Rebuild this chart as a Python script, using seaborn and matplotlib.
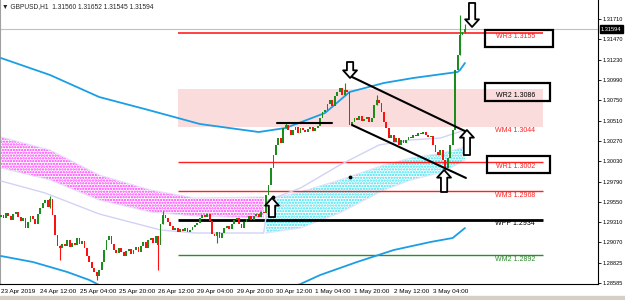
import numpy as np
import pandas as pd
import matplotlib
matplotlib.use("Agg")
import matplotlib.pyplot as plt
import matplotlib.transforms as mtransforms
from matplotlib.patches import Rectangle
import seaborn as sns

sns.set_style("white")
plt.rcParams["font.family"] = ["Liberation Sans", "DejaVu Sans"]
plt.rcParams["hatch.linewidth"] = 1.1

# hourly closes, bar 0 = 23 Apr 20:00
closes = [
    1.29395, 1.29359, 1.29419, 1.29383, 1.29336, 1.29407, 1.29430, 1.29371, 1.29324, 1.29359,
    1.29241, 1.29312, 1.29383, 1.29348, 1.29288, 1.29407, 1.29478, 1.29537, 1.29572, 1.29489,
    1.29584, 1.29395, 1.29158, 1.29028, 1.29005, 1.29052, 1.29028, 1.29099, 1.29017, 1.29064,
    1.29040, 1.29123, 1.29052, 1.29087, 1.29005, 1.28910, 1.28839, 1.28768, 1.28721, 1.28674,
    1.28745, 1.28839, 1.28981, 1.29099, 1.29147, 1.29052, 1.28981, 1.28946, 1.29005, 1.28957,
    1.28910, 1.28969, 1.28993, 1.28934, 1.28981, 1.29017, 1.28957, 1.29028, 1.29076, 1.29005,
    1.29099, 1.29123, 1.29064, 1.29147, 1.29040, 1.29288, 1.29395, 1.29359, 1.29312, 1.29265,
    1.29218, 1.29241, 1.29194, 1.29229, 1.29206, 1.29241, 1.29194, 1.29218, 1.29253, 1.29277,
    1.29300, 1.29359, 1.29395, 1.29371, 1.29407, 1.29324, 1.29170, 1.29147, 1.29194, 1.29123,
    1.29182, 1.29241, 1.29265, 1.29229, 1.29288, 1.29336, 1.29359, 1.29288, 1.29241, 1.29312,
    1.29348, 1.29383, 1.29336, 1.29383, 1.29407, 1.29371, 1.29430, 1.29419, 1.29631, 1.29750,
    1.29951, 1.30104, 1.30223, 1.30305, 1.30246, 1.30424, 1.30459, 1.30400, 1.30341, 1.30400,
    1.30435, 1.30364, 1.30424, 1.30400, 1.30376, 1.30412, 1.30435, 1.30388, 1.30424, 1.30447,
    1.30542, 1.30613, 1.30637, 1.30707, 1.30755, 1.30684, 1.30802, 1.30849, 1.30897, 1.30814,
    1.30873, 1.30849, 1.30459, 1.30495, 1.30542, 1.30518, 1.30566, 1.30506, 1.30530, 1.30554,
    1.30495, 1.30542, 1.30696, 1.30755, 1.30719, 1.30613, 1.30495, 1.30424, 1.30305, 1.30341,
    1.30258, 1.30305, 1.30223, 1.30282, 1.30246, 1.30282, 1.30317, 1.30305, 1.30341, 1.30329,
    1.30364, 1.30353, 1.30376, 1.30341, 1.30317, 1.30329, 1.30223, 1.30140, 1.30104, 1.30163,
    1.30045, 1.29951, 1.30069, 1.30223, 1.30400, 1.31110, 1.31287, 1.31523, 1.31560, 1.31594,
]
first_open = 1.29370

wick_bars = [20, 24, 39, 64, 66, 88, 116, 140, 153, 181, 187, 189]
wick_high = [1.29620, 1.29040, 1.28721, 1.29147, 1.29442, 1.29194, 1.30495, 1.30956, 1.30814, 1.30045, 1.31760, 1.31652]
wick_low = [1.29480, 1.28863, 1.28626, 1.28745, 1.29288, 1.29064, 1.30424, 1.30814, 1.30696, 1.29927, 1.31287, 1.31545]

# envelope / bands
band_up_bars = [0, 20, 40, 60, 81, 105, 116, 132, 142, 156, 168, 186, 187, 189]
band_up = [1.31251, 1.31050, 1.30790, 1.30637, 1.30471, 1.30376, 1.30424, 1.30601, 1.30849,
           1.30956, 1.31015, 1.31086, 1.31110, 1.31192]
band_dn_bars = [0, 13, 20, 27, 36, 40, 60, 80, 100, 116, 122, 130, 145, 160, 175, 184, 189]
band_dn = [1.28910, 1.28839, 1.28780, 1.28721, 1.28626, 1.28567, 1.28508, 1.28484, 1.28484,
           1.28520, 1.28579, 1.28685, 1.28839, 1.28981, 1.29076, 1.29123, 1.29241]
mid_bars = [0, 18, 40, 65, 79, 107, 109, 122, 138, 154, 167, 179, 189]
mid_line = [1.29797, 1.29655, 1.29407, 1.29218, 1.29182, 1.29182, 1.29572, 1.29714, 1.29986,
            1.30223, 1.30282, 1.30305, 1.30400]

# cloud
bear_bars = [0, 20, 40, 61, 79, 107]
bear_top = [1.30317, 1.30163, 1.29868, 1.29690, 1.29596, 1.29608]
bear_bot = [1.29951, 1.29809, 1.29572, 1.29430, 1.29383, 1.29359]
bull_bars = [108, 122, 138, 156, 167, 180, 189]
bull_top = [1.29572, 1.29667, 1.29809, 1.29986, 1.30069, 1.30128, 1.30199]
bull_bot = [1.29182, 1.29241, 1.29419, 1.29690, 1.29809, 1.29903, 1.30045]

dot_bars = [111, 142]
dot_vals = [1.29608, 1.29844]

# weekly pivots
level_names = ["WR3", "WR2", "WM4", "WR1", "WM3", "WPP", "WM2"]
level_values = [1.3155, 1.3086, 1.3044, 1.3002, 1.2968, 1.2934, 1.2892]
level_colors = ["#ff2020", "#000000", "#ff2020", "#ff2020", "#ff2020", "#000000", "#2e8b2e"]
level_width = [1.2, 0, 0, 1.0, 1.0, 2.0, 1.0]
level_start, level_end = 72.1, 220.8
zone_low, zone_high = 1.3044, 1.3089

box_x0 = [197.2, 197.2, 198.0]
box_x1 = [224.9, 223.6, 223.6]
box_p0 = [1.31381, 1.30743, 1.29892]
box_p1 = [1.31582, 1.30956, 1.30093]

# hand drawn lines
line_x0 = [143, 143, 112.4]
line_x1 = [189.8, 189.4, 134.8]
line_p0 = [1.31027, 1.30459, 1.30483]
line_p1 = [1.30376, 1.29833, 1.30483]

arrow_bars = [142.2, 191.9, 110.4, 180.5, 189.8]
arrow_tail = [1.31204, 1.31902, 1.29371, 1.29667, 1.30104]
arrow_tip = [1.31015, 1.31618, 1.29596, 1.29927, 1.30400]

x_tick_bars = [0, 16, 32, 48, 64, 80, 96, 112, 128, 144, 160, 176]
x_tick_labels = ["23 Apr 2019", "24 Apr 12:00", "25 Apr 04:00", "25 Apr 20:00", "26 Apr 12:00",
                 "29 Apr 04:00", "29 Apr 20:00", "30 Apr 12:00", "1 May 04:00", "1 May 20:00",
                 "2 May 12:00", "3 May 04:00"]
y_ticks = [1.31710, 1.31470, 1.31230, 1.30990, 1.30750, 1.30510, 1.30270, 1.30030, 1.29790,
           1.29550, 1.29310, 1.29070, 1.28825, 1.28585]
last_price = 1.31594
title = "\u25bc GBPUSD,H1  1.31560 1.31652 1.31545 1.31594"

df = pd.DataFrame({"bar": np.arange(len(closes)), "close": closes})
df["open"] = [first_open] + closes[:-1]
df["up"] = df.close >= df.open
GREEN, RED = "#1c8c1c", "#ff1010"

fig = plt.figure(figsize=(6.25, 3.0), dpi=100)
ax = fig.add_axes([0.0, 16 / 300, 598 / 625, 284 / 300])
ax.set_xlim(-0.4, 243.2)
ax.set_ylim(1.28579, 1.31937)

# pink zone + pivot lines
ax.fill_between([level_start, level_end], zone_low, zone_high, color="#fbdcdc", lw=0, zorder=0)
for name, val, col, lw in zip(level_names, level_values, level_colors, level_width):
    if lw > 0:
        ax.hlines(val, level_start, level_end, color=col, lw=lw, zorder=2)
    ax.text(209.5, val - 0.00050, f"{name} {val:.4f}", color=col, fontsize=5.0,
            ha="center", va="center", zorder=6)
for x0, x1, p0, p1 in zip(box_x0, box_x1, box_p0, box_p1):
    ax.add_patch(Rectangle((x0, p0), x1 - x0, p1 - p0, fill=False, ec="black", lw=1.6, zorder=6))

# cloud
ax.fill_between(bear_bars, bear_bot, bear_top, facecolor="none", edgecolor="#ff30ff",
                hatch="......", lw=0, zorder=1)
ax.fill_between(bull_bars, bull_bot, bull_top, facecolor="none", edgecolor="#30e0f0",
                hatch="......", lw=0, zorder=1)
for xs, ys in [(bear_bars, bear_top), (bear_bars, bear_bot), (bull_bars, bull_top), (bull_bars, bull_bot)]:
    ax.plot(xs, ys, color="#e4e0fa", lw=0.8, zorder=1)

# indicator lines
sns.lineplot(x=band_up_bars, y=band_up, ax=ax, color="#1a9ee6", lw=1.3, zorder=3)
sns.lineplot(x=band_dn_bars, y=band_dn, ax=ax, color="#1a9ee6", lw=1.3, zorder=3)
sns.lineplot(x=mid_bars, y=mid_line, ax=ax, color="#d2d2f6", lw=1.0, zorder=3)
ax.axhline(last_price, color="#c0c0c0", lw=0.8, zorder=2)

# candles
cols = np.where(df.up, GREEN, RED)
heights = (df.close - df.open).to_numpy()
heights = np.where(np.abs(heights) < 0.00003, 0.00003, heights)
ax.bar(df.bar, heights, bottom=df.open, width=0.75, color=cols, lw=0, zorder=4)
ax.vlines(wick_bars, wick_low, wick_high, colors=[cols[b] for b in wick_bars], lw=0.8, zorder=4)
ax.scatter(dot_bars, dot_vals, s=3, color="black", zorder=4)

# drawn objects
for x0, x1, p0, p1 in zip(line_x0, line_x1, line_p0, line_p1):
    ax.plot([x0, x1], [p0, p1], color="black", lw=1.5, zorder=5)
for b, tail, tip in zip(arrow_bars, arrow_tail, arrow_tip):
    ax.annotate("", xy=(b, tip), xytext=(b, tail), zorder=7,
                arrowprops=dict(arrowstyle="simple,head_length=0.55,head_width=1.0,tail_width=0.45",
                                fc="white", ec="black", lw=1.3, shrinkA=0, shrinkB=0))

# axes
ax.spines["top"].set_visible(False)
ax.spines["left"].set_color("#a0a0a0")
for s in ["right", "bottom"]:
    ax.spines[s].set_color("black")
    ax.spines[s].set_linewidth(0.8)
ax.yaxis.tick_right()
ax.set_yticks(y_ticks)
ax.set_yticklabels([f"{v:.5f}" for v in y_ticks])
ax.set_xticks(x_tick_bars)
ax.set_xticklabels(x_tick_labels, ha="left")
ax.tick_params(axis="x", direction="out", length=2, width=0.6, labelsize=4.6, pad=1.5,
               colors="black")
ax.tick_params(axis="y", direction="out", length=2, width=0.6, labelsize=4.1, pad=1.0,
               colors="black", left=False)
ax.set_xlabel("")
ax.set_ylabel("")

trans = mtransforms.blended_transform_factory(ax.transAxes, ax.transData)
ax.text(1.005, last_price, f"{last_price:.5f}", transform=trans, color="white", fontsize=4.1,
        ha="left", va="center", zorder=8,
        bbox=dict(boxstyle="square,pad=0.2", fc="black", ec="black"))
ax.text(0.004, 0.99, title, transform=ax.transAxes, fontsize=4.8, ha="left", va="top")

fig.add_artist(Rectangle((0, 0), 1, 0.012, transform=fig.transFigure, color="#d4d0c8"))
fig.savefig("out.png", dpi=100)
